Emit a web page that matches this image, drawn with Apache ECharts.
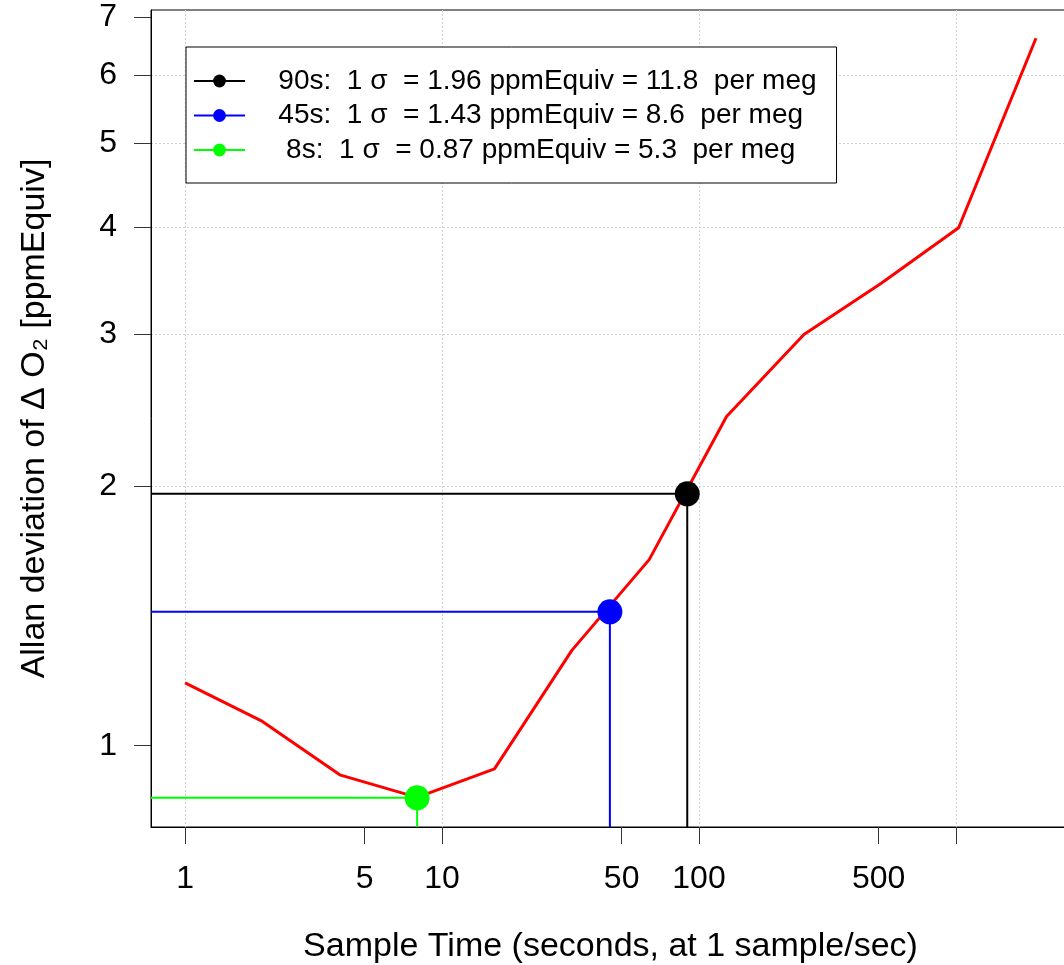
<!DOCTYPE html>
<html>
<head>
<meta charset="utf-8">
<script src="https://cdn.jsdelivr.net/npm/echarts@6/dist/echarts.min.js"></script>
<style>
html,body{margin:0;padding:0;background:#ffffff;}
#chart{width:1064px;height:965px;}
</style>
</head>
<body>
<div id="chart"></div>
<script>
// ---- data ----
const sampleTime = [1, 2, 4, 8, 16, 32, 64, 128, 256, 512, 1024, 2048];
const allanDev   = [1.183, 1.067, 0.925, 0.871, 0.940, 1.29, 1.644, 2.41, 3.0, 3.44, 3.99, 6.62];

const refLabels = [
  '90s:  1 σ  = 1.96 ppmEquiv = 11.8  per meg',
  '45s:  1 σ  = 1.43 ppmEquiv = 8.6  per meg',
  ' 8s:  1 σ  = 0.87 ppmEquiv = 5.3  per meg'
];
const refTau   = [90, 45, 8];
const refSigma = [1.96, 1.43, 0.87];
const refColors = ['#000000', '#0000FF', '#00FF00'];

const xTicks      = [1, 5, 10, 50, 100, 500, 1000];
const xTickLabels = [1, 5, 10, 50, 100, 500];
const yTicks      = [1, 2, 3, 4, 5, 6, 7];
const xRange = [0.737, 2778];
const yRange = [0.8047, 7.14];

const FONT = "'Liberation Sans', Arial, sans-serif";
const fmt = v => String(+(+v).toPrecision(6));

const chart = echarts.init(document.getElementById('chart'), null, {renderer: 'canvas'});

const refSeries = refLabels.map((name, i) => ({
  type: 'line',
  name: name,
  xAxisIndex: 0,
  yAxisIndex: 0,
  symbol: 'circle',
  symbolSize: 25,
  showSymbol: true,
  silent: true,
  z: 4,
  lineStyle: {color: refColors[i], width: 2},
  itemStyle: {color: refColors[i]},
  data: [
    {value: [xRange[0], refSigma[i]], symbol: 'none'},
    {value: [refTau[i], refSigma[i]]},
    {value: [refTau[i], yRange[0]], symbol: 'none'}
  ]
}));

const option = {
  animation: false,
  backgroundColor: '#ffffff',
  textStyle: {fontFamily: FONT},
  grid: {
    left: 151, right: -6, top: 10, bottom: 138,
    show: true, borderColor: '#000000', borderWidth: 1,
    backgroundColor: 'transparent',
    containLabel: false,
    outerBoundsMode: 'none'
  },
  legend: {
    data: refLabels,
    orient: 'vertical',
    left: 186, top: 47,
    padding: [20, 20, 19, 7],
    itemGap: 6.5,
    itemWidth: 51,
    itemHeight: 16,
    borderColor: '#000000',
    borderWidth: 1,
    borderRadius: 0,
    backgroundColor: '#ffffff',
    selectedMode: false,
    formatter: n => '   ' + n,
    textStyle: {fontSize: 28, color: '#000000', fontFamily: FONT, padding: [0, 0, 0, 5]}
  },
  xAxis: [
    {
      type: 'log', logBase: 10,
      min: xRange[0], max: xRange[1],
      position: 'bottom',
      axisLine: {show: true, lineStyle: {color: '#000000', width: 1}},
      axisTick: {show: true, length: 17, customValues: xTicks, lineStyle: {color: '#333333', width: 1}},
      axisLabel: {customValues: xTickLabels, margin: 36, fontSize: 32, color: '#000000', fontFamily: FONT, formatter: fmt},
      splitLine: {show: false},
      minorTick: {show: false}, minorSplitLine: {show: false},
      name: 'Sample Time (seconds, at 1 sample/sec)',
      nameLocation: 'middle', nameGap: 103,
      nameTextStyle: {fontSize: 34, color: '#000000', fontFamily: FONT}
    },
    {
      type: 'log', logBase: 10,
      min: xRange[0], max: xRange[1],
      position: 'top',
      axisLine: {show: false}, axisTick: {show: false}, axisLabel: {show: false},
      splitLine: {show: true, showMinLine: false, showMaxLine: false,
                  lineStyle: {color: '#D0D0D0', width: 1, type: [2, 2]}}
    }
  ],
  yAxis: [
    {
      type: 'log', logBase: 10,
      min: yRange[0], max: yRange[1],
      position: 'left',
      axisLine: {show: true, lineStyle: {color: '#000000', width: 1}},
      axisTick: {show: true, length: 17, customValues: yTicks, lineStyle: {color: '#333333', width: 1}},
      axisLabel: {customValues: yTicks, margin: 34, fontSize: 32, color: '#000000', fontFamily: FONT, formatter: fmt,
                  padding: [8, 0, 0, 0]},
      splitLine: {show: true, showMinLine: false, showMaxLine: false,
                  lineStyle: {color: '#D0D0D0', width: 1, type: [2, 2]}},
      minorTick: {show: false}, minorSplitLine: {show: false},
      name: 'Allan deviation of Δ O₂ [ppmEquiv]',
      nameLocation: 'middle', nameGap: 99, nameRotate: 90,
      nameTextStyle: {fontSize: 34, color: '#000000', fontFamily: FONT}
    }
  ],
  series: [
    {
      type: 'line',
      name: 'allan',
      xAxisIndex: 0, yAxisIndex: 0,
      symbol: 'none', showSymbol: false, silent: true, z: 3,
      lineStyle: {color: '#FF0000', width: 3},
      data: sampleTime.map((t, i) => [t, allanDev[i]])
    }
  ].concat(refSeries)
};

chart.setOption(option);
</script>
</body>
</html>
